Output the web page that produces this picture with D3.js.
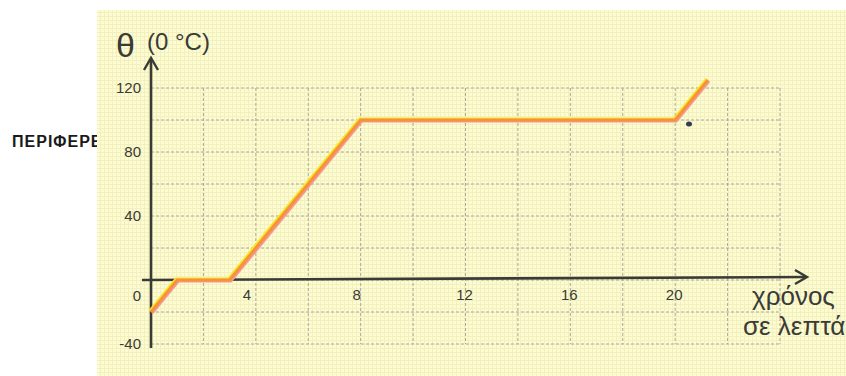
<!DOCTYPE html>
<html>
<head>
<meta charset="utf-8">
<script src="https://cdn.jsdelivr.net/npm/d3@7"></script>
<style>
  html, body { margin: 0; padding: 0; background: #fff; }
  svg { display: block; }
</style>
</head>
<body>
<svg id="chart" width="846" height="376"></svg>
<script>
// ---- data ----
const times = [0, 1, 3, 8, 20, 21.25];          // minutes
const temps = [-20, 0, 0, 100, 100, 125];       // °C
const xTickValues = [4, 8, 12, 16, 20];
const yTickValues = [-40, 0, 40, 80, 120];
const xGridValues = [2, 4, 6, 8, 10, 12, 14, 16, 18, 20, 22, 24];
const yGridValues = [-40, -20, 0, 20, 40, 60, 80, 100, 120];

const svg = d3.select("#chart");
const W = 846, H = 376;

const x = d3.scaleLinear().domain([0, 24]).range([151, 780]);
const y = d3.scaleLinear().domain([-40, 120]).range([344, 88]);

// left margin text (partly covered by the yellow paper)
svg.append("text")
  .attr("x", 12).attr("y", 147)
  .attr("font-family", "Liberation Sans, Arial, sans-serif")
  .attr("font-size", 16).attr("font-weight", "bold")
  .attr("letter-spacing", 1)
  .attr("fill", "#1a1a1a")
  .text("ΠΕΡΙΦΕΡΕΙΑ");

// paper pattern
const defs = svg.append("defs");
const pat = defs.append("pattern").attr("id", "mm")
  .attr("patternUnits", "userSpaceOnUse").attr("width", 4).attr("height", 4);
pat.append("rect").attr("width", 4).attr("height", 4).attr("fill", "#fcfbd2");
pat.append("path").attr("d", "M0,0.5H4M0.5,0V4").attr("stroke", "#f2f0bc").attr("stroke-width", 1);

svg.append("rect").attr("x", 97).attr("y", 10).attr("width", W - 97).attr("height", H - 10)
  .attr("fill", "url(#mm)");

// dashed grid
const grid = svg.append("g").attr("stroke", "#aaa99c").attr("stroke-width", 1)
  .attr("stroke-dasharray", "3,2").attr("fill", "none");
grid.selectAll("line.v").data(xGridValues).join("line").attr("class", "v")
  .attr("x1", d => x(d)).attr("x2", d => x(d))
  .attr("y1", y(120)).attr("y2", y(-40));
grid.selectAll("line.h").data(yGridValues).join("line").attr("class", "h")
  .attr("x1", x(0)).attr("x2", x(24))
  .attr("y1", d => y(d)).attr("y2", d => y(d));

// axes
const axisColor = "#3a3a36";
svg.append("line").attr("x1", x(0)).attr("x2", x(0)).attr("y1", y(-40) + 4).attr("y2", 59)
  .attr("stroke", axisColor).attr("stroke-width", 2.6);
svg.append("path").attr("d", `M${x(0) - 7},${70} L${x(0)},${58} L${x(0) + 7},${70}`)
  .attr("stroke", axisColor).attr("stroke-width", 2.4).attr("fill", "none");
svg.append("line").attr("x1", 142).attr("x2", 806).attr("y1", y(0)).attr("y2", y(0) - 3)
  .attr("stroke", axisColor).attr("stroke-width", 2.6);
svg.append("path").attr("d", `M${795},${y(0) - 10} L${807},${y(0) - 3} L${795},${y(0) + 4}`)
  .attr("stroke", axisColor).attr("stroke-width", 2.4).attr("fill", "none");

// tick labels
const font = "Liberation Sans, Arial, sans-serif";
svg.append("g").selectAll("text").data(yTickValues).join("text")
  .attr("x", 141).attr("y", d => y(d) + (d === 0 ? 16 : 0))
  .attr("dy", "0.35em").attr("text-anchor", "end")
  .attr("font-family", font).attr("font-size", 15).attr("fill", "#3a3a36")
  .text(d => d);
svg.append("g").selectAll("text").data(xTickValues).join("text")
  .attr("x", d => x(d) - (d === 4 ? 9 : (d === 8 ? 4 : 1))).attr("y", y(0) + 15)
  .attr("dy", "0.35em").attr("text-anchor", "middle")
  .attr("font-family", font).attr("font-size", 15).attr("fill", "#3a3a36")
  .text(d => d);

// axis titles
svg.append("text").attr("x", 116).attr("y", 57)
  .attr("font-family", font).attr("font-size", 34).attr("fill", "#3a3a36").text("θ");
svg.append("text").attr("x", 147).attr("y", 50)
  .attr("font-family", font).attr("font-size", 24).attr("fill", "#3a3a36").text("(0 °C)");
svg.append("text").attr("x", 752).attr("y", 305)
  .attr("font-family", font).attr("font-size", 26).attr("fill", "#3a3a36").text("χρόνος");
svg.append("text").attr("x", 743).attr("y", 335)
  .attr("font-family", font).attr("font-size", 26).attr("fill", "#3a3a36").text("σε λεπτά");

// heating curve
const pts = times.map((t, i) => [t, temps[i]]);
const line = d3.line().x(d => x(d[0])).y(d => y(d[1]));
svg.append("path").datum(pts).attr("d", line)
  .attr("transform", "translate(-1.3,-1.3)")
  .attr("fill", "none").attr("stroke", "#f6e620").attr("stroke-width", 2.6);
svg.append("path").datum(pts).attr("d", line)
  .attr("transform", "translate(1.3,1.3)")
  .attr("fill", "none").attr("stroke", "#f29a9a").attr("stroke-width", 2.6);
svg.append("path").datum(pts).attr("d", line)
  .attr("fill", "none").attr("stroke", "#f7913a").attr("stroke-width", 3);

// small ink spot near the end of the curve
svg.append("ellipse").attr("cx", 689).attr("cy", 124).attr("rx", 3).attr("ry", 2.5).attr("fill", "#333a55");
</script>
</body>
</html>
